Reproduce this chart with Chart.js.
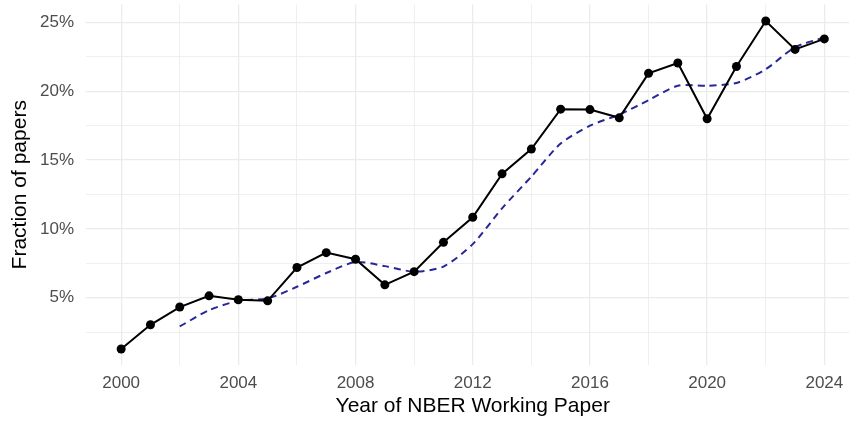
<!DOCTYPE html>
<html>
<head>
<meta charset="utf-8">
<script src="https://cdn.jsdelivr.net/npm/chart.js@4"></script>
<style>
  html, body { margin:0; padding:0; background:#fff; overflow:hidden; }
  #wrap { width:864px; height:422px; }
</style>
</head>
<body>
<div id="wrap"><canvas id="paperChart" width="864" height="422"></canvas></div>
<script>
// data
const years = [2000,2001,2002,2003,2004,2005,2006,2007,2008,2009,2010,2011,2012,
               2013,2014,2015,2016,2017,2018,2019,2020,2021,2022,2023,2024];
const share = [1.28,3.04,4.33,5.14,4.86,4.78,7.2,8.28,7.8,5.94,6.9,9.03,10.85,
               14.0,15.8,18.7,18.67,18.07,21.3,22.05,18.0,21.8,25.1,23.04,23.8];
const avgYears = [2002,2003,2004,2005,2006,2007,2008,2009,2010,2011,2012,2013,
                  2014,2015,2016,2017,2018,2019,2020,2021,2022,2023,2024];
const avgShare = [2.92,4.1,4.78,4.95,5.8,6.8,7.6,7.3,6.9,7.27,8.9,11.5,
                  13.8,16.2,17.5,18.3,19.35,20.4,20.4,20.6,21.6,23.2,23.9];
const xTicks = [2000,2002,2004,2006,2008,2010,2012,2014,2016,2018,2020,2022,2024];
const yTicks = [2.5,5,7.5,10,12.5,15,17.5,20,22.5,25];

const FONT = "'Liberation Sans', Arial, Helvetica, sans-serif";
const GRID = "#ebebeb";

// drop the label overflow padding so the plot fills the frame like the original
function noPad(s){ s.paddingTop = 0; s.paddingBottom = 0; s.paddingLeft = 0; s.paddingRight = 0; }

new Chart(document.getElementById("paperChart"), {
  type: 'line',
  data: {
    datasets: [
      {
        label: "3-year average",
        data: avgYears.map((y,i)=>({x:y, y:avgShare[i]})),
        borderColor: "#27279a",
        borderWidth: 2,
        borderDash: [7,5],
        pointRadius: 0,
        fill: false,
        tension: 0.25,
        order: 2
      },
      {
        label: "Fraction",
        data: years.map((y,i)=>({x:y, y:share[i]})),
        borderColor: "#000",
        backgroundColor: "#000",
        borderWidth: 2,
        pointRadius: 4.5,
        pointBorderWidth: 0,
        tension: 0,
        order: 1
      }
    ]
  },
  options: {
    responsive: false,
    animation: false,
    devicePixelRatio: 1,
    layout: { padding: { top: 4, left: 0, right: 0, bottom: 0 } },
    plugins: { legend: { display: false }, tooltip: { enabled: false } },
    scales: {
      x: {
        type: 'linear',
        min: 1998.8,
        max: 2025.2,
        afterBuildTicks: s => { s.ticks = xTicks.map(v=>({value:v})); },
        afterFit: s => { s.height = 57; noPad(s); },
        border: { display: false },
        grid: {
          drawTicks: false,
          color: GRID,
          lineWidth: c => (c.tick && c.tick.value % 4 === 0) ? 1.3 : 0.8
        },
        ticks: {
          autoSkip: false,
          maxRotation: 0,
          padding: 8,
          color: "#4d4d4d",
          font: { family: FONT, size: 17 },
          callback: v => (v % 4 === 0) ? String(v) : ''
        },
        title: {
          display: true,
          text: "Year of NBER Working Paper",
          color: "#000",
          font: { family: FONT, size: 21 },
          padding: { top: 0, bottom: 3 }
        }
      },
      y: {
        min: 0.12,
        max: 26.3,
        afterBuildTicks: s => { s.ticks = yTicks.map(v=>({value:v})); },
        afterFit: s => { s.width = 86; noPad(s); },
        border: { display: false },
        grid: {
          drawTicks: false,
          color: GRID,
          lineWidth: c => (c.tick && c.tick.value % 5 === 0) ? 1.3 : 0.8
        },
        ticks: {
          padding: 12,
          color: "#4d4d4d",
          font: { family: FONT, size: 17 },
          callback: v => (v % 5 === 0) ? v + '%' : ''
        },
        title: {
          display: true,
          text: "Fraction of papers",
          color: "#000",
          font: { family: FONT, size: 21 },
          padding: { top: 8, bottom: 0 }
        }
      }
    }
  }
});
</script>
</body>
</html>
